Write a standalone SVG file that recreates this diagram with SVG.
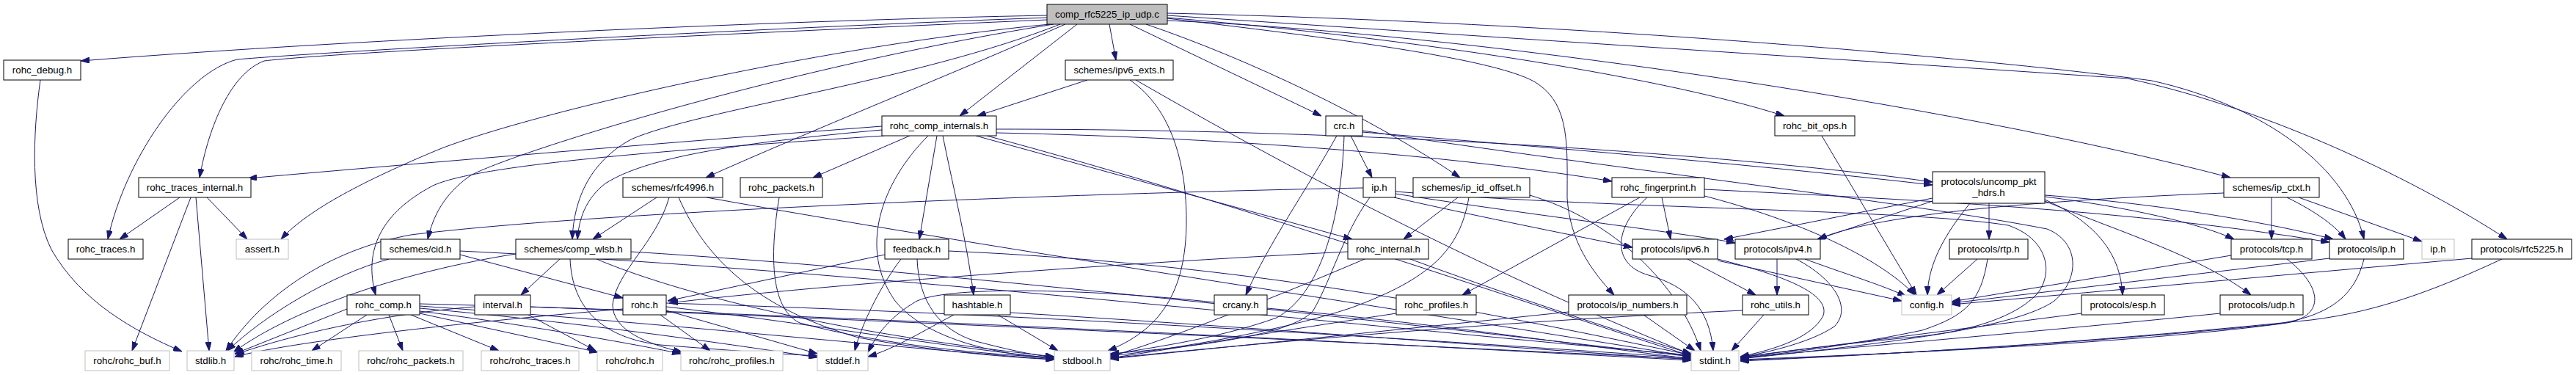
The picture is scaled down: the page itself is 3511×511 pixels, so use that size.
<svg xmlns="http://www.w3.org/2000/svg" width="3511" height="511" viewBox="0 0 3511 511">
<style>
.e{fill:none;stroke:#191970;stroke-width:1;marker-end:url(#a)}
.n rect{fill:#fff;stroke:#000;stroke-width:1}
.g rect{fill:#fff;stroke:#bfbfbf;stroke-width:1}
.t rect{fill:#bfbfbf;stroke:#000;stroke-width:1}
text{font-family:"Liberation Sans",Arial,sans-serif;font-size:13.3px;fill:#000;text-anchor:middle}
</style>
<defs>
<marker id="a" markerWidth="12" markerHeight="8" refX="12" refY="4" orient="auto" markerUnits="userSpaceOnUse"><path d="M0,0 L12,4 L0,8 z" fill="#191970" stroke="#191970" stroke-width="1"/></marker>
</defs>
<rect x="0" y="0" width="3511" height="511" fill="#fff"/>
<g id="edges">
<path class="e" d="M1427,21 C1100,27 500,52 110,83"/>
<path class="e" d="M1427,24 C1000,40 450,70 323,81 C250,100 170,220 147,326"/>
<path class="e" d="M1427,27 C900,50 450,72 360,83 C315,100 285,170 272,242"/>
<path class="e" d="M1431,33 C1100,65 700,160 590,207 C500,245 420,285 383,326"/>
<path class="e" d="M1436,33 C1050,95 680,215 640,240 C605,265 590,295 583,326"/>
<path class="e" d="M1445,33 C1250,110 950,150 860,190 C805,220 782,270 780,326"/>
<path class="e" d="M1452,33 C1300,100 1100,180 962,242"/>
<path class="e" d="M1468,33 L1308,158"/>
<path class="e" d="M1512,33 L1521,82"/>
<path class="e" d="M1540,33 L1801,158"/>
<path class="e" d="M1562,33 C1700,80 1870,160 1990,242"/>
<path class="e" d="M1591,25 C1800,50 2050,80 2097,115 C2140,145 2136,200 2136,270 C2140,330 2170,370 2200,402"/>
<path class="e" d="M1591,24 C1900,50 2250,100 2432,158"/>
<path class="e" d="M1591,28 C2000,45 2650,140 3040,242"/>
<path class="e" d="M1591,18 C2200,32 2750,85 2933,110 C3090,145 3200,230 3222,326"/>
<path class="e" d="M1591,21 C2100,55 2650,90 2900,107 C3100,150 3300,250 3417,326"/>
<path class="e" d="M1202,172 C900,195 600,220 338,243"/>
<path class="e" d="M1205,185 C900,205 650,225 590,253 C520,290 495,340 512,402"/>
<path class="e" d="M1240,185 L1108,242"/>
<path class="e" d="M1277,185 L1253,326"/>
<path class="e" d="M1285,185 C1300,260 1318,330 1327,402"/>
<path class="e" d="M1265,185 C1200,250 1170,340 1220,410 C1260,460 1350,482 1437,489"/>
<path class="e" d="M1202,177 C1000,195 880,215 825,250 C797,272 789,300 787,326"/>
<path class="e" d="M1330,185 L1843,326"/>
<path class="e" d="M1358,181 C1700,188 2000,215 2197,247"/>
<path class="e" d="M1358,176 C1900,176 2400,215 2634,248"/>
<path class="e" d="M1345,185 C1700,280 2100,420 2305,485"/>
<path class="e" d="M1482,109 L1332,158"/>
<path class="e" d="M1540,109 C1600,150 1617,230 1617,300 C1617,400 1580,450 1510,478"/>
<path class="e" d="M1548,109 C1750,225 2000,360 2305,483"/>
<path class="e" d="M1841,185 L1870,242"/>
<path class="e" d="M1822,185 C1780,260 1730,330 1698,402"/>
<path class="e" d="M1832,185 C1828,300 1800,400 1740,433 C1650,465 1560,474 1513,484"/>
<path class="e" d="M1857,180 C2100,200 2400,225 2634,252"/>
<path class="e" d="M1857,178 C2200,230 2600,275 2790,312 C2835,330 2835,380 2800,410 C2750,445 2600,465 2372,489"/>
<path class="e" d="M245,269 L163,326"/>
<path class="e" d="M260,269 L180,478"/>
<path class="e" d="M267,269 L285,478"/>
<path class="e" d="M282,269 L337,326"/>
<path class="e" d="M55,109 C45,180 40,280 70,340 C110,410 180,450 248,479"/>
<path class="e" d="M895,269 L808,326"/>
<path class="e" d="M912,269 C895,330 840,370 835,415 C835,450 880,468 930,480"/>
<path class="e" d="M925,269 C960,350 1030,420 1170,460 C1280,480 1380,487 1437,490"/>
<path class="e" d="M963,269 C1300,330 1900,420 2305,486"/>
<path class="e" d="M1062,269 C1050,340 1048,420 1090,440 C1200,470 1350,484 1437,487"/>
<path class="e" d="M627,347 L849,406"/>
<path class="e" d="M530,353 C450,375 360,430 310,478"/>
<path class="e" d="M627,342 C1200,370 1900,450 2305,484"/>
<path class="e" d="M763,353 L710,402"/>
<path class="e" d="M703,346 C550,370 400,420 318,480"/>
<path class="e" d="M777,353 C780,420 820,460 900,470 C1000,478 1060,482 1114,485"/>
<path class="e" d="M860,343 C1300,370 1900,440 2305,486"/>
<path class="e" d="M813,353 C900,390 1100,450 1437,486"/>
<path class="e" d="M500,429 L425,478"/>
<path class="e" d="M530,429 L549,478"/>
<path class="e" d="M560,429 L680,478"/>
<path class="e" d="M572,427 L815,480"/>
<path class="e" d="M572,424 C700,440 850,466 928,482"/>
<path class="e" d="M473,421 L320,482"/>
<path class="e" d="M572,420 C800,440 1000,470 1114,487"/>
<path class="e" d="M572,417 C900,440 1200,472 1437,490"/>
<path class="e" d="M572,414 C1200,430 1900,470 2305,491"/>
<path class="e" d="M647,418 C500,430 380,462 321,483"/>
<path class="e" d="M723,418 C1300,440 1900,470 2305,489"/>
<path class="e" d="M720,429 L812,478"/>
<path class="e" d="M900,429 L968,478"/>
<path class="e" d="M849,421 C600,442 400,466 320,486"/>
<path class="e" d="M908,423 L1114,482"/>
<path class="e" d="M908,418 C1100,440 1300,475 1437,488"/>
<path class="e" d="M908,413 C1400,428 1900,460 2305,488"/>
<path class="e" d="M1206,347 L910,410"/>
<path class="e" d="M1228,353 C1200,390 1175,440 1165,478"/>
<path class="e" d="M1250,353 C1252,410 1280,450 1330,465 C1380,478 1410,484 1437,487"/>
<path class="e" d="M1293,342 C1700,360 2000,420 2305,484"/>
<path class="e" d="M1300,429 C1260,450 1220,475 1183,486"/>
<path class="e" d="M1360,429 L1442,478"/>
<path class="e" d="M1377,426 C1700,445 2000,470 2305,490"/>
<path class="e" d="M1655,412 C1500,395 1300,388 1250,410 C1215,430 1195,455 1183,480"/>
<path class="e" d="M1727,420 C1950,440 2150,470 2305,489"/>
<path class="e" d="M1900,269 C2000,292 2150,322 2225,337"/>
<path class="e" d="M1902,264 C2100,295 2300,318 2365,331"/>
<path class="e" d="M1867,269 C1830,320 1815,380 1790,423 C1760,460 1600,475 1513,482"/>
<path class="e" d="M1858,256 C1400,265 800,290 560,320 C450,340 360,400 308,478"/>
<path class="e" d="M1902,261 C2200,285 2600,285 2737,307 C2790,325 2800,370 2777,400 C2740,440 2660,455 2600,460 C2500,470 2420,480 2372,487"/>
<path class="e" d="M1987,269 L1913,326"/>
<path class="e" d="M2002,269 C1990,340 1950,380 1840,420 C1750,450 1600,476 1513,485"/>
<path class="e" d="M2085,266 C2200,300 2290,390 2318,478"/>
<path class="e" d="M1922,353 C2050,400 2200,450 2305,482"/>
<path class="e" d="M1837,343 C1500,360 1100,390 912,413"/>
<path class="e" d="M1860,353 C1750,400 1600,460 1513,486"/>
<path class="e" d="M2265,269 L2277,326"/>
<path class="e" d="M2235,269 L1993,402"/>
<path class="e" d="M2245,269 C2200,310 2195,360 2247,375 C2300,390 2330,420 2335,478"/>
<path class="e" d="M2323,267 C2450,300 2560,350 2610,402"/>
<path class="e" d="M2323,258 C2600,272 2900,285 3175,330"/>
<path class="e" d="M2711,277 L2711,326"/>
<path class="e" d="M2685,277 C2650,320 2628,360 2627,402"/>
<path class="e" d="M2634,270 L2350,326"/>
<path class="e" d="M2634,274 L2477,326"/>
<path class="e" d="M2787,272 C2850,300 2890,340 2893,402"/>
<path class="e" d="M2787,274 C2900,320 3000,350 3068,402"/>
<path class="e" d="M2787,268 C2900,282 3000,305 3045,326"/>
<path class="e" d="M2787,266 C2950,278 3100,305 3180,326"/>
<path class="e" d="M2300,353 L2393,402"/>
<path class="e" d="M2341,355 L2592,410"/>
<path class="e" d="M2341,353 C2430,375 2495,400 2485,430 C2470,460 2420,476 2372,486"/>
<path class="e" d="M2422,353 L2422,402"/>
<path class="e" d="M2460,353 C2520,375 2570,390 2598,404"/>
<path class="e" d="M2448,353 C2500,380 2525,420 2500,445 C2470,465 2420,478 2372,487"/>
<path class="e" d="M2695,353 L2640,402"/>
<path class="e" d="M2709,353 C2700,410 2680,430 2620,450 C2500,475 2420,482 2372,488"/>
<path class="e" d="M2404,429 L2360,478"/>
<path class="e" d="M2375,423 C2000,440 1700,470 1513,488"/>
<path class="e" d="M3041,348 L2660,411"/>
<path class="e" d="M3117,353 C3165,390 3170,430 3117,440 C2900,470 2500,485 2372,490"/>
<path class="e" d="M3175,352 L2660,413"/>
<path class="e" d="M3222,353 C3210,400 3180,430 3100,442 C2800,472 2500,486 2372,491"/>
<path class="e" d="M3369,352 L2660,415"/>
<path class="e" d="M3410,353 C3320,395 3240,425 3150,436 C2800,472 2500,486 2372,492"/>
<path class="e" d="M3096,269 L3096,326"/>
<path class="e" d="M3117,269 C3160,290 3185,310 3197,326"/>
<path class="e" d="M3133,269 L3301,329"/>
<path class="e" d="M3031,263 C2800,272 2560,290 2478,326"/>
<path class="e" d="M2483,185 L2612,402"/>
<path class="e" d="M2837,427 L2372,487"/>
<path class="e" d="M3026,427 C2800,450 2500,475 2372,488"/>
<path class="e" d="M1903,427 C1750,450 1600,475 1513,488"/>
<path class="e" d="M2240,429 L2310,478"/>
<path class="e" d="M2138,425 C1900,450 1650,475 1513,489"/>
</g>
<g id="n_top" class="t"><rect x="1427" y="6" width="164" height="27"/><text x="1509" y="24">comp_rfc5225_ip_udp.c</text></g>
<g id="n_debug" class="n"><rect x="5" y="82" width="105" height="27"/><text x="57.5" y="100">rohc_debug.h</text></g>
<g id="n_ipv6x" class="n"><rect x="1452" y="82" width="147" height="27"/><text x="1525.5" y="100">schemes/ipv6_exts.h</text></g>
<g id="n_compint" class="n"><rect x="1202" y="158" width="156" height="27"/><text x="1280" y="176">rohc_comp_internals.h</text></g>
<g id="n_crc" class="n"><rect x="1807" y="158" width="50" height="27"/><text x="1832" y="176">crc.h</text></g>
<g id="n_bitops" class="n"><rect x="2419" y="158" width="109" height="27"/><text x="2473.5" y="176">rohc_bit_ops.h</text></g>
<g id="n_uncomp" class="n"><rect x="2634" y="234" width="153" height="43"/><text x="2710.5" y="252">protocols/uncomp_pkt</text><text x="2710.5" y="267">_hdrs.h</text></g>
<g id="n_trint" class="n"><rect x="189" y="242" width="153" height="27"/><text x="265.5" y="260">rohc_traces_internal.h</text></g>
<g id="n_rfc4996" class="n"><rect x="849" y="242" width="136" height="27"/><text x="917" y="260">schemes/rfc4996.h</text></g>
<g id="n_packets" class="n"><rect x="1009" y="242" width="112" height="27"/><text x="1065" y="260">rohc_packets.h</text></g>
<g id="n_iph" class="n"><rect x="1858" y="242" width="44" height="27"/><text x="1880" y="260">ip.h</text></g>
<g id="n_ipid" class="n"><rect x="1926" y="242" width="159" height="27"/><text x="2005.5" y="260">schemes/ip_id_offset.h</text></g>
<g id="n_fp" class="n"><rect x="2197" y="242" width="126" height="27"/><text x="2260" y="260">rohc_fingerprint.h</text></g>
<g id="n_ipctxt" class="n"><rect x="3031" y="242" width="130" height="27"/><text x="3096" y="260">schemes/ip_ctxt.h</text></g>
<g id="n_traces" class="n"><rect x="93" y="326" width="102" height="27"/><text x="144" y="344">rohc_traces.h</text></g>
<g id="n_assert" class="g"><rect x="322" y="326" width="71" height="27"/><text x="357.5" y="344">assert.h</text></g>
<g id="n_cid" class="n"><rect x="519" y="326" width="108" height="27"/><text x="573" y="344">schemes/cid.h</text></g>
<g id="n_wlsb" class="n"><rect x="703" y="326" width="157" height="27"/><text x="781.5" y="344">schemes/comp_wlsb.h</text></g>
<g id="n_feedback" class="n"><rect x="1206" y="326" width="87" height="27"/><text x="1249.5" y="344">feedback.h</text></g>
<g id="n_rint" class="n"><rect x="1837" y="326" width="110" height="27"/><text x="1892" y="344">rohc_internal.h</text></g>
<g id="n_ipv6" class="n"><rect x="2225" y="326" width="116" height="27"/><text x="2283" y="344">protocols/ipv6.h</text></g>
<g id="n_ipv4" class="n"><rect x="2365" y="326" width="116" height="27"/><text x="2423" y="344">protocols/ipv4.h</text></g>
<g id="n_rtp" class="n"><rect x="2657" y="326" width="107" height="27"/><text x="2710.5" y="344">protocols/rtp.h</text></g>
<g id="n_tcp" class="n"><rect x="3041" y="326" width="110" height="27"/><text x="3096" y="344">protocols/tcp.h</text></g>
<g id="n_pip" class="n"><rect x="3175" y="326" width="101" height="27"/><text x="3225.5" y="344">protocols/ip.h</text></g>
<g id="n_sysip" class="g"><rect x="3301" y="326" width="44" height="27"/><text x="3323" y="344">ip.h</text></g>
<g id="n_rfc5225" class="n"><rect x="3369" y="326" width="136" height="27"/><text x="3437" y="344">protocols/rfc5225.h</text></g>
<g id="n_comp" class="n"><rect x="473" y="402" width="99" height="27"/><text x="522.5" y="420">rohc_comp.h</text></g>
<g id="n_interval" class="n"><rect x="647" y="402" width="76" height="27"/><text x="685" y="420">interval.h</text></g>
<g id="n_rohch" class="n"><rect x="849" y="402" width="59" height="27"/><text x="878.5" y="420">rohc.h</text></g>
<g id="n_hashtable" class="n"><rect x="1287" y="402" width="90" height="27"/><text x="1332" y="420">hashtable.h</text></g>
<g id="n_crcany" class="n"><rect x="1655" y="402" width="72" height="27"/><text x="1691" y="420">crcany.h</text></g>
<g id="n_profiles" class="n"><rect x="1903" y="402" width="109" height="27"/><text x="1957.5" y="420">rohc_profiles.h</text></g>
<g id="n_ipnum" class="n"><rect x="2138" y="402" width="161" height="27"/><text x="2218.5" y="420">protocols/ip_numbers.h</text></g>
<g id="n_utils" class="n"><rect x="2375" y="402" width="90" height="27"/><text x="2420" y="420">rohc_utils.h</text></g>
<g id="n_config" class="g"><rect x="2592" y="402" width="68" height="27"/><text x="2626" y="420">config.h</text></g>
<g id="n_esp" class="n"><rect x="2837" y="402" width="113" height="27"/><text x="2893.5" y="420">protocols/esp.h</text></g>
<g id="n_udp" class="n"><rect x="3026" y="402" width="113" height="27"/><text x="3082.5" y="420">protocols/udp.h</text></g>
<g id="n_buf" class="g"><rect x="116" y="478" width="115" height="27"/><text x="173.5" y="496">rohc/rohc_buf.h</text></g>
<g id="n_stdlib" class="g"><rect x="255" y="478" width="64" height="27"/><text x="287" y="496">stdlib.h</text></g>
<g id="n_time" class="g"><rect x="343" y="478" width="122" height="27"/><text x="404" y="496">rohc/rohc_time.h</text></g>
<g id="n_rpackets" class="g"><rect x="489" y="478" width="142" height="27"/><text x="560" y="496">rohc/rohc_packets.h</text></g>
<g id="n_rtraces" class="g"><rect x="656" y="478" width="133" height="27"/><text x="722.5" y="496">rohc/rohc_traces.h</text></g>
<g id="n_rrohc" class="g"><rect x="814" y="478" width="89" height="27"/><text x="858.5" y="496">rohc/rohc.h</text></g>
<g id="n_rprofiles" class="g"><rect x="928" y="478" width="139" height="27"/><text x="997.5" y="496">rohc/rohc_profiles.h</text></g>
<g id="n_stddef" class="g"><rect x="1114" y="478" width="69" height="27"/><text x="1148.5" y="496">stddef.h</text></g>
<g id="n_stdbool" class="g"><rect x="1437" y="478" width="76" height="27"/><text x="1475" y="496">stdbool.h</text></g>
<g id="n_stdint" class="g"><rect x="2305" y="478" width="65" height="27"/><text x="2337.5" y="496">stdint.h</text></g>
</svg>
